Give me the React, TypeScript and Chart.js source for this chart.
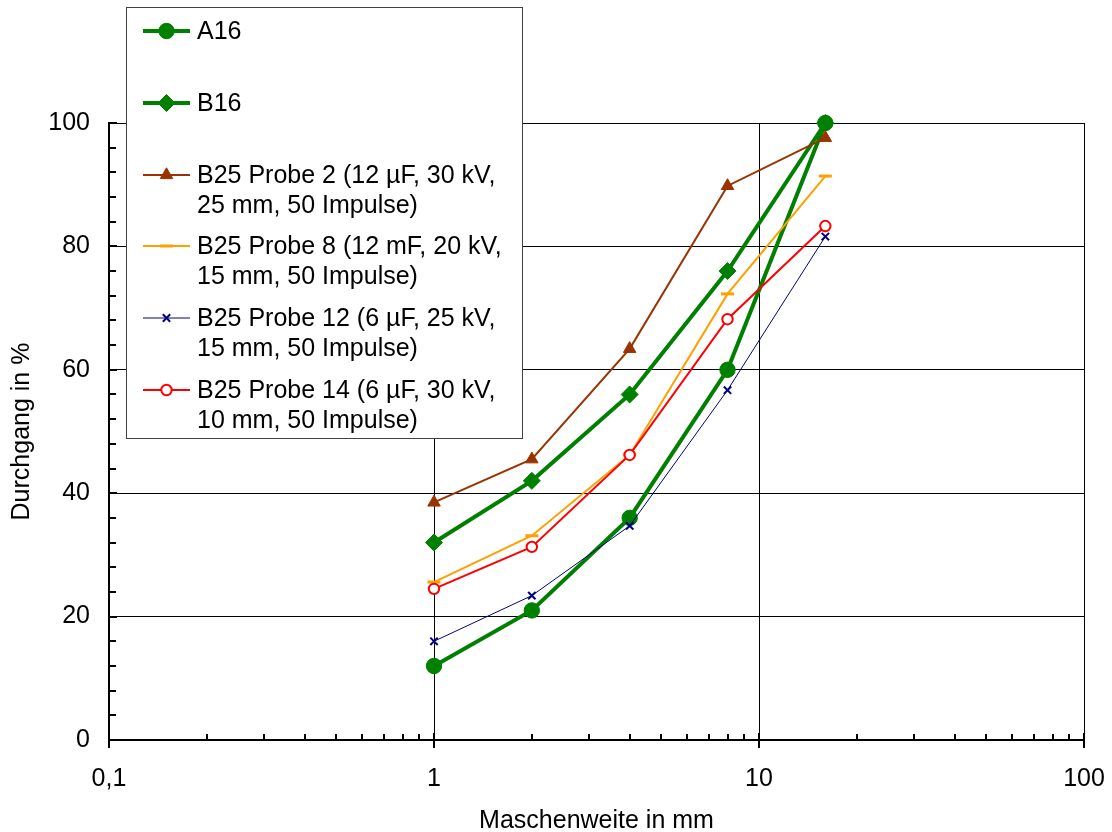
import React, { useEffect, useRef } from 'react';
import { Chart, registerables } from 'chart.js';
import { drawPoint } from 'chart.js/helpers';

Chart.register(...registerables);

// ---- data ----
const sieveSizes = [1, 2, 4, 8, 16];
const a16 = [12, 21, 36, 60, 100];
const b16 = [32, 42, 56, 76, 100];
const probe2 = [38.5, 45.5, 63.4, 89.8, 97.6];
const probe8 = [25.6, 33.1, 46.2, 72.3, 91.4];
const probe12 = [16.0, 23.4, 34.7, 56.7, 81.6];
const probe14 = [24.5, 31.3, 46.2, 68.2, 83.3];

const seriesLabels = [
  ['A16'],
  ['B16'],
  ['B25 Probe 2 (12 µF, 30 kV,', '25 mm, 50 Impulse)'],
  ['B25 Probe 8 (12 mF, 20 kV,', '15 mm, 50 Impulse)'],
  ['B25 Probe 12 (6 µF, 25 kV,', '15 mm, 50 Impulse)'],
  ['B25 Probe 14 (6 µF, 30 kV,', '10 mm, 50 Impulse)'],
];

const xTickValues = [0.1, 1, 10, 100];
const xMinorValues = [0.2, 0.3, 0.4, 0.5, 0.6, 0.7, 0.8, 0.9, 2, 3, 4, 5, 6, 7, 8, 9, 20, 30, 40, 50, 60, 70, 80, 90];
const yTickValues = [0, 20, 40, 60, 80, 100];
const yMinorValues = [4, 8, 12, 16, 24, 28, 32, 36, 44, 48, 52, 56, 64, 68, 72, 76, 84, 88, 92, 96];

const xTitle = 'Maschenweite in mm';
const yTitle = 'Durchgang in %';

const FONT = "Arial, 'Liberation Sans', sans-serif";

const styles = [
  { color: '#008000', width: 4, pointStyle: 'circle', radius: 7.7, pbw: 1, fill: '#008000' },
  { color: '#008000', width: 4, pointStyle: 'rectRot', radius: 8.5, pbw: 1, fill: '#008000' },
  { color: '#993300', width: 2, pointStyle: 'triangle', radius: 7.2, pbw: 1, fill: '#993300' },
  { color: '#FFA000', width: 2, pointStyle: 'line', radius: 6.5, pbw: 3, fill: '#FFA000' },
  { color: '#000080', width: 1, pointStyle: 'crossRot', radius: 5.2, pbw: 2, fill: '#000080' },
  { color: '#FF0000', width: 2, pointStyle: 'circle', radius: 5.2, pbw: 2, fill: '#FFFFFF' },
];

const seriesValues = [a16, b16, probe2, probe8, probe12, probe14];

const decorPlugin = {
  id: 'decor',
  afterDraw(chart: any) {
    const ctx = chart.ctx;
    const { left, bottom } = chart.chartArea;
    const xs = chart.scales.x;
    const ys = chart.scales.y;
    ctx.save();
    // y ticks (inside)
    ctx.strokeStyle = '#000';
    ctx.lineWidth = 2;
    ctx.beginPath();
    for (const v of yMinorValues) {
      const py = Math.round(ys.getPixelForValue(v));
      ctx.moveTo(left, py);
      ctx.lineTo(left + 7, py);
    }
    for (const v of yTickValues) {
      const py = Math.round(ys.getPixelForValue(v));
      ctx.moveTo(left, py);
      ctx.lineTo(left + 8, py);
    }
    // x ticks
    for (const v of xMinorValues) {
      const px = Math.round(xs.getPixelForValue(v));
      ctx.moveTo(px, bottom);
      ctx.lineTo(px, bottom - 6);
    }
    for (const v of xTickValues) {
      const px = Math.round(xs.getPixelForValue(v));
      ctx.moveTo(px, bottom - 7);
      ctx.lineTo(px, bottom + 8);
    }
    ctx.stroke();

    // legend box
    ctx.fillStyle = '#FFFFFF';
    ctx.fillRect(126, 8, 396, 431);
    ctx.strokeStyle = '#404040';
    ctx.lineWidth = 1;
    ctx.strokeRect(126.5, 7.5, 396, 431);

    chart.data.datasets.forEach((ds: any, i: number) => {
      const cy = Math.round(31 + 71.8 * i);
      ctx.strokeStyle = ds.borderColor;
      ctx.lineWidth = ds.borderWidth;
      ctx.beginPath();
      ctx.moveTo(143, cy);
      ctx.lineTo(190, cy);
      ctx.stroke();
      ctx.fillStyle = ds.pointBackgroundColor;
      ctx.strokeStyle = ds.pointBorderColor;
      ctx.lineWidth = ds.pointBorderWidth;
      drawPoint(ctx, { pointStyle: ds.pointStyle, radius: ds.pointRadius, borderWidth: ds.pointBorderWidth, rotation: 0 } as any, 166.5, cy);
      ctx.fillStyle = '#000';
      ctx.font = `25px ${FONT}`;
      ctx.textAlign = 'left';
      ctx.textBaseline = 'middle';
      seriesLabels[i].forEach((line, j) => {
        ctx.fillText(line, 197, cy + 1.2 + 30 * j);
      });
    });
    ctx.restore();
  },
};

export default function App() {
  const ref = useRef<HTMLCanvasElement | null>(null);
  useEffect(() => {
    if (!ref.current) return;
    const datasets = seriesValues.map((vals, i) => ({
      label: seriesLabels[i].join(' '),
      data: sieveSizes.map((x, k) => ({ x, y: vals[k] })),
      borderColor: styles[i].color,
      backgroundColor: styles[i].color,
      borderWidth: styles[i].width,
      pointStyle: styles[i].pointStyle,
      pointRadius: styles[i].radius,
      pointBorderWidth: styles[i].pbw,
      pointBackgroundColor: styles[i].fill,
      pointBorderColor: styles[i].color,
      tension: 0,
      fill: false,
      clip: false,
      order: 6 - i,
    }));
    const chart = new Chart(ref.current, {
      type: 'line',
      data: { datasets },
      plugins: [decorPlugin],
      options: {
        responsive: false,
        animation: false,
        layout: { padding: { top: 123, right: 28, bottom: 0, left: 0 } },
        plugins: { legend: { display: false }, tooltip: { enabled: false } },
        scales: {
          x: {
            type: 'logarithmic',
            min: 0.1,
            max: 100,
            afterBuildTicks: (s: any) => {
              s.ticks = xTickValues.map((v) => ({ value: v }));
            },
            afterFit: (s: any) => {
              s.height = 92;
              s.paddingLeft = 0;
              s.paddingRight = 0;
            },
            ticks: {
              autoSkip: false,
              maxRotation: 0,
              padding: 24,
              color: '#000',
              font: { family: FONT, size: 25 },
              callback: (v: any) => String(v).replace('.', ','),
            },
            grid: { color: '#000', lineWidth: 1, drawTicks: false },
            border: { display: true, color: '#000', width: 2 },
            title: {
              display: true,
              text: xTitle,
              color: '#000',
              font: { family: FONT, size: 25, lineHeight: 0.9 },
              padding: { top: 0, bottom: 0 },
            },
          },
          y: {
            type: 'linear',
            min: 0,
            max: 100,
            afterBuildTicks: (s: any) => {
              s.ticks = yTickValues.map((v) => ({ value: v }));
            },
            afterFit: (s: any) => {
              s.width = 109;
              s.paddingTop = 0;
              s.paddingBottom = 0;
            },
            ticks: {
              padding: 19,
              color: '#000',
              font: { family: FONT, size: 25 },
            },
            grid: {
              color: (c: any) => (c.tick && c.tick.value === 0 ? 'rgba(0,0,0,0)' : '#000'),
              lineWidth: 1,
              drawTicks: false,
            },
            border: { display: true, color: '#000', width: 2 },
            title: {
              display: true,
              text: yTitle,
              color: '#000',
              font: { family: FONT, size: 25, lineHeight: 0.9 },
              padding: { top: 10.5, bottom: 0 },
            },
          },
        },
      } as any,
    });
    return () => chart.destroy();
  }, []);
  return (
    <div style={{ position: 'absolute', left: 0, top: 0, width: 1112, height: 832, background: '#fff' }}>
      <canvas ref={ref} width={1112} height={832} />
    </div>
  );
}
